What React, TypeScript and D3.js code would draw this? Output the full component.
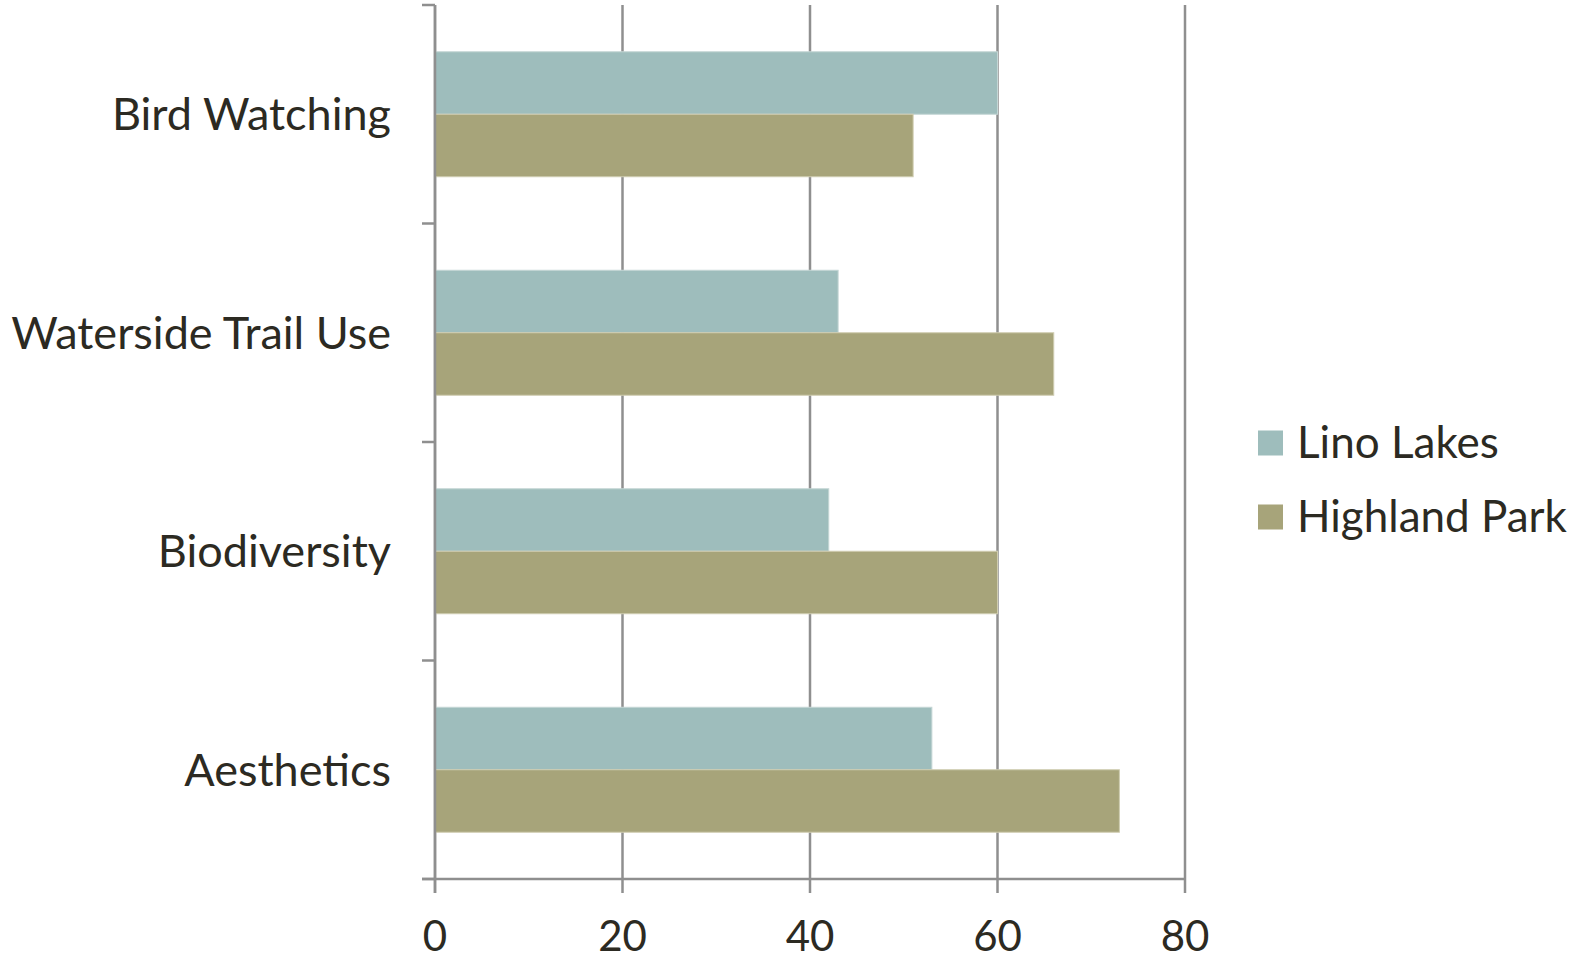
import React from "react";
import * as d3 from "d3";

const categories = ["Bird Watching", "Waterside Trail Use", "Biodiversity", "Aesthetics"];
const seriesNames = ["Lino Lakes", "Highland Park"];
const linoLakes = [60, 43, 42, 53];
const highlandPark = [51, 66, 60, 73];
const xTicks = [0, 20, 40, 60, 80];

const colors = ["#9ebdbc", "#a7a47a"];
const edgeColors = ["#c4d6d5", "#cfccb0"];
const axisColor = "#8f8f8f";
const textColor = "#2c2a22";
const font = "Lato, 'Open Sans', sans-serif";

const W = 1579;
const H = 959;
const left = 435;
const right = 1185;
const top = 5;
const bottom = 879;

export default function App() {
  const values = [linoLakes, highlandPark];

  const x = d3.scaleLinear().domain([0, 80]).range([left, right]);
  const y = d3
    .scaleBand<string>()
    .domain(categories)
    .range([top, bottom])
    .paddingInner(0.428)
    .paddingOuter(0.214);
  const inner = d3
    .scaleBand<string>()
    .domain(seriesNames)
    .range([0, y.bandwidth()]);

  const step = y.step();
  const catTicks = d3.range(categories.length + 1).map(i => top + i * step);

  return (
    <svg
      width={W}
      height={H}
      style={{ position: "absolute", left: 0, top: 0, background: "#fff" }}
    >
      {/* gridlines + bottom ticks */}
      {xTicks.map(t => (
        <line
          key={"g" + t}
          x1={x(t)}
          x2={x(t)}
          y1={top}
          y2={bottom + 14}
          stroke={axisColor}
          strokeWidth={2.5}
        />
      ))}

      {/* bars */}
      {categories.map((c, i) => (
        <g key={c} transform={`translate(0,${y(c)})`}>
          {seriesNames.map((s, j) => (
            <rect
              key={s}
              x={x(0)}
              y={inner(s)}
              width={x(values[j][i]) - x(0)}
              height={inner.bandwidth()}
              fill={colors[j]}
              stroke={edgeColors[j]}
              strokeWidth={1}
            />
          ))}
        </g>
      ))}

      {/* category axis */}
      <line x1={left} x2={left} y1={top} y2={bottom + 14} stroke={axisColor} strokeWidth={2.5} />
      {catTicks.map((t, i) => (
        <line key={"c" + i} x1={left - 13} x2={left} y1={t} y2={t} stroke={axisColor} strokeWidth={2.5} />
      ))}
      {/* value axis */}
      <line x1={left - 13} x2={right} y1={bottom} y2={bottom} stroke={axisColor} strokeWidth={2.5} />

      {categories.map(c => (
        <text
          key={"l" + c}
          x={391}
          y={(y(c) as number) + y.bandwidth() / 2}
          dy="0.35em"
          textAnchor="end"
          fontFamily={font}
          fontSize={45}
          fill={textColor}
        >
          {c}
        </text>
      ))}

      {xTicks.map(t => (
        <text
          key={"t" + t}
          x={x(t)}
          y={951}
          textAnchor="middle"
          fontFamily={font}
          fontSize={42}
          fill={textColor}
        >
          {t}
        </text>
      ))}

      {/* legend */}
      {seriesNames.map((s, j) => (
        <g key={"lg" + s} transform={`translate(1258,${443 + j * 74})`}>
          <rect x={0} y={-12.5} width={25} height={25} fill={colors[j]} />
          <text x={39} y={0} dy="0.35em" fontFamily={font} fontSize={44} fill={textColor}>
            {s}
          </text>
        </g>
      ))}
    </svg>
  );
}
